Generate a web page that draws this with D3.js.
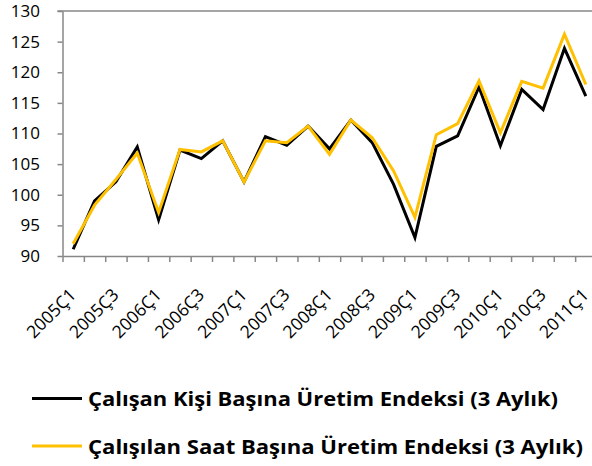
<!DOCTYPE html>
<html>
<head>
<meta charset="utf-8">
<script src="https://cdn.jsdelivr.net/npm/d3@7"></script>
<style>
  body { margin: 0; background: #fff; }
  svg { display: block; font-family: "Open Sans", Lato, sans-serif; }
</style>
</head>
<body>
<div id="chart-area"></div>
<script>
// data
var quarters = ["2005Ç1","2005Ç2","2005Ç3","2005Ç4","2006Ç1","2006Ç2","2006Ç3","2006Ç4",
  "2007Ç1","2007Ç2","2007Ç3","2007Ç4","2008Ç1","2008Ç2","2008Ç3","2008Ç4",
  "2009Ç1","2009Ç2","2009Ç3","2009Ç4","2010Ç1","2010Ç2","2010Ç3","2010Ç4","2011Ç1"];
var perPerson = [91.1, 99.0, 102.1, 107.8, 95.9, 107.3, 105.9, 108.8, 102.1, 109.5, 108.1, 111.2,
  107.5, 112.2, 108.5, 101.7, 93.0, 107.9, 109.6, 117.6, 108.0, 117.2, 113.9, 123.9, 116.1];
var perHour = [92.0, 98.3, 102.5, 106.8, 97.1, 107.4, 107.0, 108.8, 102.1, 108.8, 108.5, 111.2,
  106.6, 112.2, 109.3, 103.9, 96.3, 109.8, 111.6, 118.6, 110.1, 118.5, 117.4, 126.2, 118.0];
var yTicks = [90, 95, 100, 105, 110, 115, 120, 125, 130];
var seriesNames = ["Çalışan Kişi Başına Üretim Endeksi (3 Aylık)",
  "Çalışılan Saat Başına Üretim Endeksi (3 Aylık)"];
var seriesColors = ["#000000", "#FFC000"];

var width = 592;
var height = 466;
var plotLeft = 62.5, plotRight = 596.5, plotTop = 11, plotBottom = 256;
var axisColor = "#878787";

var svg = d3.select("#chart-area").append("svg")
.attr("width", width)
.attr("height", height)

var x = d3.scaleBand()
.domain(quarters)
.range([plotLeft, plotRight])

var xEdge = d3.scaleLinear()
.domain([0, quarters.length])
.range([plotLeft, plotRight])

var y = d3.scaleLinear()
.domain([90, 130])
.range([plotBottom, plotTop])

// top gridline (130)
svg.append("line")
.attr("x1", plotLeft - 5)
.attr("x2", plotRight)
.attr("y1", y(130))
.attr("y2", y(130))
.attr("stroke", axisColor)
.attr("stroke-width", 1.5)

// Y axis
var yAxis = svg.append("g")
.attr("transform", "translate(" + plotLeft + ",0)")
.call(d3.axisLeft(y).tickValues(yTicks).tickSize(5).tickSizeOuter(0).tickPadding(17.5))

yAxis.select(".domain").attr("stroke", axisColor).attr("stroke-width", 1.5)
yAxis.selectAll(".tick line").attr("stroke", axisColor).attr("stroke-width", 1.5)
yAxis.selectAll(".tick text")
.attr("font-size", "17px")
.attr("font-family", "'Open Sans', sans-serif")
.attr("fill", "#000")

// X axis (ticks on category edges)
var xAxis = svg.append("g")
.attr("transform", "translate(0," + plotBottom + ")")
.call(d3.axisBottom(xEdge).tickValues(d3.range(0, quarters.length + 1)).tickSize(6).tickSizeOuter(0).tickFormat(""))

xAxis.select(".domain").attr("stroke", axisColor).attr("stroke-width", 1.5)
xAxis.selectAll(".tick line").attr("stroke", axisColor).attr("stroke-width", 1.5)

// X labels, every second quarter
svg.selectAll(".xlabel")
.data(quarters.filter((d, i) => i % 2 === 0))
.enter().append("text")
.attr("class", "xlabel")
.attr("text-anchor", "end")
.attr("font-size", "17.5px")
.attr("transform", d => "translate(" + (x(d) + x.bandwidth() / 2 + 4) + "," + (plotBottom + 40) + ") rotate(-45)")
.text(d => d)

// lines
var line = d3.line()
.x((d, i) => x(quarters[i]) + x.bandwidth() / 2)
.y(d => y(d))

;[perPerson, perHour].forEach((series, k) => {
	svg.append("path")
	.datum(series)
	.attr("fill", "none")
	.attr("stroke", seriesColors[k])
	.attr("stroke-width", 3)
	.attr("stroke-linejoin", "miter")
	.attr("d", line)
})

// legend
var legendWidths = [470, 495]
var legend = svg.append("g")

seriesNames.forEach((name, i) => {
	var row = legend.append("g")
	.attr("transform", "translate(32," + (398.5 + i * 47.5) + ")")

	row.append("line")
	.attr("x1", 0)
	.attr("x2", 50)
	.attr("stroke", seriesColors[i])
	.attr("stroke-width", 3)

	row.append("text")
	.attr("x", 56)
	.attr("y", 7.5)
	.attr("font-size", "20px")
	.attr("font-weight", "bold")
	.attr("textLength", legendWidths[i])
	.attr("lengthAdjust", "spacingAndGlyphs")
	.text(name)
})
</script>
</body>
</html>
